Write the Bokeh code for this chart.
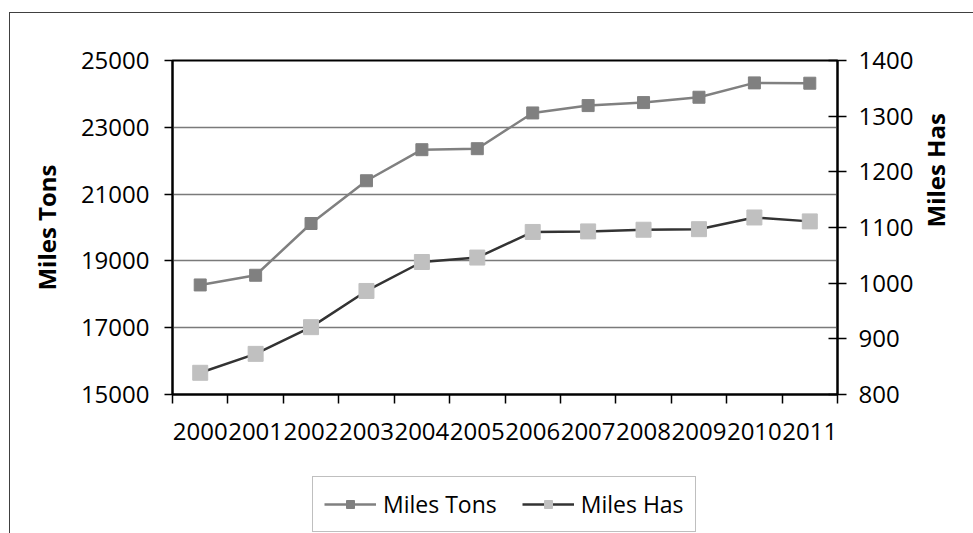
import math
from bokeh.plotting import figure
from bokeh.layouts import column
from bokeh.models import (Range1d, LinearAxis, FixedTicker, Legend, LegendItem)
from bokeh.embed import file_html
from bokeh.resources import INLINE

years = ["2000", "2001", "2002", "2003", "2004", "2005",
         "2006", "2007", "2008", "2009", "2010", "2011"]
miles_tons = [18280, 18570, 20120, 21400, 22330, 22360,
              23430, 23650, 23740, 23900, 24330, 24320]
miles_has = [839, 873, 921, 986, 1038, 1046,
             1092, 1093, 1096, 1097, 1118, 1111]
left_ticks = [15000, 17000, 19000, 21000, 23000, 25000]
right_ticks = [800, 900, 1000, 1100, 1200, 1300, 1400]
series_names = ["Miles Tons", "Miles Has"]

FONT = "Open Sans"
TONS_LINE, TONS_MARK = "#808080", "#808080"
HAS_LINE, HAS_MARK = "#333333", "#c0c0c0"
xpos = [i + 0.5 for i in range(len(years))]

p = figure(width=963, height=447,
           x_range=Range1d(0, len(years)), y_range=Range1d(15000, 25000),
           output_backend="svg", toolbar_location=None,
           min_border_left=162, min_border_right=136,
           min_border_top=47, min_border_bottom=66)
p.extra_y_ranges = {"has": Range1d(800, 1400)}
p.outline_line_color = "black"
p.outline_line_width = 2
p.background_fill_color = "white"
p.border_fill_color = "white"

# x axis
xa = p.xaxis[0]
xa.ticker = FixedTicker(ticks=xpos, minor_ticks=list(range(len(years) + 1)))
xa.major_label_overrides = {x: y for x, y in zip(xpos, years)}
xa.major_tick_line_color = None
xa.minor_tick_in = 0
xa.minor_tick_out = 9
xa.minor_tick_line_color = "black"
xa.minor_tick_line_width = 1.5
xa.axis_line_width = 2
xa.axis_line_color = "black"
xa.major_label_text_font = FONT
xa.major_label_text_font_size = "24px"
xa.major_label_text_color = "black"
xa.major_label_standoff = 19

# left axis
ya = p.yaxis[0]
ya.ticker = FixedTicker(ticks=left_ticks)
ya.minor_tick_line_color = None
ya.major_tick_in = 0
ya.major_tick_out = 8
ya.major_tick_line_width = 1.5
ya.major_tick_line_color = "black"
ya.axis_line_width = 2
ya.axis_line_color = "black"
ya.major_label_text_font = FONT
ya.major_label_text_font_size = "24px"
ya.major_label_text_color = "black"
ya.major_label_standoff = 15
ya.axis_label = series_names[0]
ya.axis_label_text_font = FONT
ya.axis_label_text_font_style = "bold"
ya.axis_label_text_font_size = "24px"
ya.axis_label_text_color = "black"
ya.axis_label_standoff = 15

# right axis
ra = LinearAxis(y_range_name="has", ticker=FixedTicker(ticks=right_ticks))
ra.minor_tick_line_color = None
ra.major_tick_in = 9
ra.major_tick_out = 9
ra.major_tick_line_width = 1.5
ra.major_tick_line_color = "black"
ra.axis_line_width = 2
ra.axis_line_color = "black"
ra.major_label_text_font = FONT
ra.major_label_text_font_size = "24px"
ra.major_label_text_color = "black"
ra.major_label_standoff = 12
ra.axis_label = series_names[1]
ra.axis_label_text_font = FONT
ra.axis_label_text_font_style = "bold"
ra.axis_label_text_font_size = "24px"
ra.axis_label_text_color = "black"
ra.axis_label_standoff = 19
ra.axis_label_orientation = math.pi / 2
p.add_layout(ra, "right")

p.xgrid.grid_line_color = None
p.ygrid.ticker = FixedTicker(ticks=left_ticks)
p.ygrid.grid_line_color = "#7a7a7a"
p.ygrid.grid_line_width = 1.5

p.line(xpos, miles_tons, line_color=TONS_LINE, line_width=2.5)
p.scatter(xpos, miles_tons, marker="square", size=12,
          fill_color=TONS_MARK, line_color=TONS_MARK)
p.line(xpos, miles_has, line_color=HAS_LINE, line_width=2.5, y_range_name="has")
p.scatter(xpos, miles_has, marker="square", size=15,
          fill_color=HAS_MARK, line_color=HAS_MARK, y_range_name="has")

# legend strip below the chart: same series and styles, plotted out of view,
# so that the Legend draws the glyph samples
lg = figure(width=963, height=73, title=None,
            x_range=Range1d(0, 1), y_range=Range1d(0, 1),
            x_axis_type=None, y_axis_type=None,
            output_backend="svg", toolbar_location=None,
            min_border_left=0, min_border_right=0,
            min_border_top=0, min_border_bottom=0)
lg.outline_line_color = None
lg.background_fill_color = "white"
lg.border_fill_color = "white"
ll1 = lg.line(xpos, miles_tons, line_color=TONS_LINE, line_width=2.5)
ls1 = lg.scatter(xpos, miles_tons, marker="square", size=11,
                 fill_color=TONS_MARK, line_color=TONS_MARK)
ll2 = lg.line(xpos, miles_has, line_color=HAS_LINE, line_width=2.5)
ls2 = lg.scatter(xpos, miles_has, marker="square", size=13,
                 fill_color=HAS_MARK, line_color=HAS_MARK)

legend = Legend(items=[LegendItem(label=series_names[0], renderers=[ll1, ls1]),
                       LegendItem(label=series_names[1], renderers=[ll2, ls2])],
                orientation="horizontal", location=(140, 1))
legend.label_text_font = FONT
legend.label_text_font_size = "23px"
legend.label_text_color = "black"
legend.glyph_width = 52
legend.glyph_height = 20
legend.label_standoff = 7
legend.spacing = 25
legend.padding = 11
legend.margin = 0
legend.border_line_color = "#808080"
legend.border_line_width = 1
legend.background_fill_alpha = 1
lg.add_layout(legend, "center")

root = column(p, lg, spacing=0)
root.styles = {"border-left": "1px solid #404040", "border-top": "1px solid #404040",
               "margin-top": "12px", "margin-left": "9px"}

open("out.html", "w").write(file_html(root, INLINE))
